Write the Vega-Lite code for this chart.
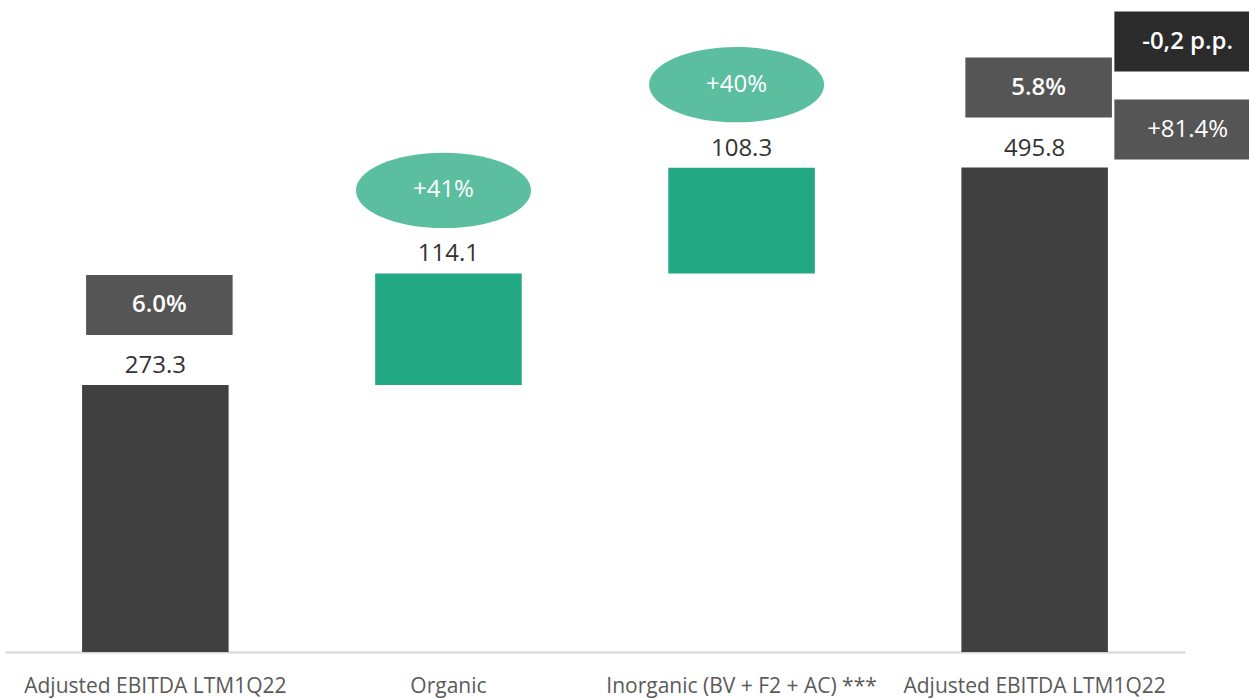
{
  "$schema": "https://vega.github.io/schema/vega-lite/v6.json",
  "width": 1180,
  "height": 652,
  "autosize": {"type": "none"},
  "padding": {"left": 5, "top": 0, "right": 64, "bottom": 46},
  "background": "white",
  "config": {"view": {"stroke": null}, "font": "Open Sans"},
  "data": {
    "values": [
      {"cat": "Adjusted EBITDA LTM1Q22", "kind": "total", "start": 0, "end": 273.3, "value": "273.3", "badge": "6.0%", "growth": null},
      {"cat": "Organic", "kind": "delta", "start": 273.3, "end": 387.4, "value": "114.1", "badge": null, "growth": "+41%"},
      {"cat": "Inorganic (BV + F2 + AC) ***", "kind": "delta", "start": 387.4, "end": 495.7, "value": "108.3", "badge": null, "growth": "+40%"},
      {"cat": "Adjusted EBITDA LTM1Q22 ", "kind": "total", "start": 0, "end": 495.8, "value": "495.8", "badge": "5.8%", "growth": null}
    ]
  },
  "encoding": {
    "x": {
      "field": "cat", "type": "nominal",
      "sort": ["Adjusted EBITDA LTM1Q22", "Organic", "Inorganic (BV + F2 + AC) ***", "Adjusted EBITDA LTM1Q22 "],
      "scale": {"paddingInner": 0.5, "paddingOuter": 0.263},
      "axis": {
        "title": null, "labelAngle": 0, "ticks": false,
        "labelFontSize": 21, "labelColor": "#5a5a5a", "labelPadding": 23,
        "domainColor": "#d4d4d4", "domainWidth": 2, "labelLimit": 400
      }
    }
  },
  "layer": [
    {
      "mark": {"type": "bar"},
      "encoding": {
        "y": {"field": "start", "type": "quantitative", "scale": {"domain": [0, 667.3], "nice": false, "zero": true}, "axis": null},
        "y2": {"field": "end"},
        "color": {"field": "kind", "type": "nominal", "scale": {"domain": ["total", "delta"], "range": ["#404040", "#22a882"]}, "legend": null}
      }
    },
    {
      "mark": {"type": "text", "fontSize": 24, "color": "#333333", "baseline": "middle", "yOffset": -19},
      "encoding": {
        "y": {"field": "end", "type": "quantitative"},
        "text": {"field": "value"}
      }
    },
    {
      "transform": [{"filter": "datum.badge != null"}],
      "mark": {"type": "rect", "color": "#555555", "xOffset": 4, "x2Offset": 4, "yOffset": -110, "y2Offset": -50},
      "encoding": {
        "y": {"field": "end", "type": "quantitative"},
        "y2": {"field": "end"}
      }
    },
    {
      "transform": [{"filter": "datum.badge != null"}],
      "mark": {"type": "text", "fontSize": 24, "fontWeight": 600, "color": "white", "baseline": "middle", "xOffset": 4, "yOffset": -80},
      "encoding": {
        "y": {"field": "end", "type": "quantitative"},
        "text": {"field": "badge"}
      }
    },
    {
      "transform": [{"filter": "datum.growth != null"}],
      "mark": {"type": "point", "filled": true, "opacity": 1, "color": "#5bbf9f", "strokeWidth": 0,
               "shape": "M-1,0A1,0.43 0 1,0 1,0A1,0.43 0 1,0 -1,0Z", "size": 30625, "xOffset": -5, "yOffset": -83},
      "encoding": {
        "y": {"field": "end", "type": "quantitative"}
      }
    },
    {
      "transform": [{"filter": "datum.growth != null"}],
      "mark": {"type": "text", "fontSize": 24, "color": "white", "baseline": "middle", "xOffset": -5, "yOffset": -83},
      "encoding": {
        "y": {"field": "end", "type": "quantitative"},
        "text": {"field": "growth"}
      }
    },
    {
      "data": {"values": [{"cat": "Adjusted EBITDA LTM1Q22 ", "end": 495.8, "note": "-0,2 p.p.", "tone": "dark"}]},
      "layer": [
        {
          "mark": {"type": "rect", "color": "#2b2b2b", "xOffset": 153, "x2Offset": 153, "yOffset": -156, "y2Offset": -96},
          "encoding": {"y": {"field": "end", "type": "quantitative"}, "y2": {"field": "end"}}
        },
        {
          "mark": {"type": "text", "fontSize": 24, "fontWeight": 600, "color": "white", "baseline": "middle", "xOffset": 153, "yOffset": -126},
          "encoding": {"y": {"field": "end", "type": "quantitative"}, "text": {"field": "note"}}
        }
      ]
    },
    {
      "data": {"values": [{"cat": "Adjusted EBITDA LTM1Q22 ", "end": 495.8, "note": "+81.4%", "tone": "gray"}]},
      "layer": [
        {
          "mark": {"type": "rect", "color": "#555555", "xOffset": 153, "x2Offset": 153, "yOffset": -68, "y2Offset": -8},
          "encoding": {"y": {"field": "end", "type": "quantitative"}, "y2": {"field": "end"}}
        },
        {
          "mark": {"type": "text", "fontSize": 24, "color": "white", "baseline": "middle", "xOffset": 153, "yOffset": -38},
          "encoding": {"y": {"field": "end", "type": "quantitative"}, "text": {"field": "note"}}
        }
      ]
    }
  ]
}
